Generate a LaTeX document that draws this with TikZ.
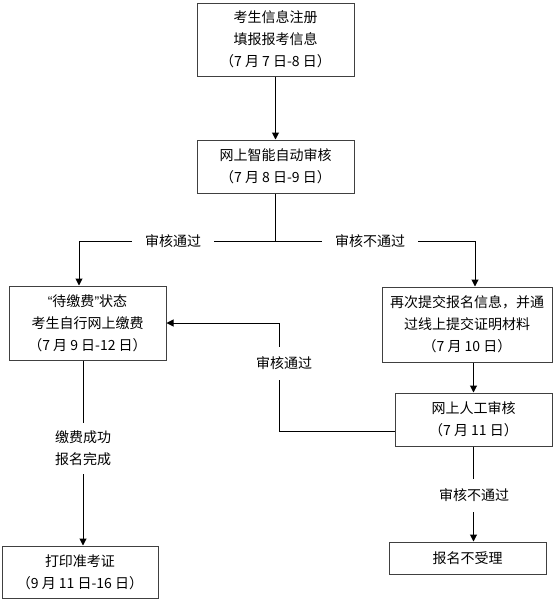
\documentclass[tikz,border=0pt]{standalone}
\usepackage{fontspec}
\setmainfont{Noto Sans CJK SC}
\newfontfamily\quotefont{Liberation Sans}
\usetikzlibrary{positioning, arrows.meta, calc}

\begin{document}
\begin{tikzpicture}[x=1pt, y=-1pt, line width=1pt,
    >={Triangle[width=7pt, length=7pt]},
    box/.style={draw=black!75, align=center, inner sep=0pt,
      font=\fontsize{14pt}{22pt}\selectfont},
    lbl/.style={fill=white, align=center, inner xsep=13pt, inner ysep=10pt,
      font=\fontsize{14pt}{22pt}\selectfont}]
        \useasboundingbox (0,0) rectangle (555,600);

        \node[box, minimum width=157pt, minimum height=73pt] (reg)    at (275.5,39.5) {考生信息注册\\填报报考信息\\（7 月 7 日-8 日）};
        \node[box, minimum width=157pt, minimum height=53pt] (auto)   at (275.5,166.5) {网上智能自动审核\\（7 月 8 日-9 日）};
        \node[box, minimum width=157pt, minimum height=74pt] (pay)    at (87.5,323)   {{\quotefont “}待缴费{\quotefont ”}状态\\考生自行网上缴费\\（7 月 9 日-12 日）};
        \node[box, minimum width=170pt, minimum height=75pt] (resub)  at (467,324.5)  {再次提交报名信息，并通\\过线上提交证明材料\\（7 月 10 日）};
        \node[box, minimum width=157pt, minimum height=53pt] (manual) at (473.5,419.5) {网上人工审核\\（7 月 11 日）};
        \node[box, minimum width=157pt, minimum height=32pt] (reject) at (467.5,558)  {报名不受理};
        \node[box, minimum width=156pt, minimum height=52pt] (print)  at (80,572)     {打印准考证\\（9 月 11 日-16 日）};

        \coordinate (split) at ($(auto.south)+(0,48)$);

        \draw[->] (reg) -- (auto);
        \draw (auto) -- (split);
        \draw[->] (split) -| ([xshift=-8.5pt]pay.north);
        \draw[->] (split) -| ([xshift=8pt]resub.north);
        \draw[->] (resub.south -| manual.south) -- (manual);
        \draw[->] (manual.south) -- (manual.south |- reject.north);
        \draw[->] ([yshift=-12pt]manual.west) -- ++(-115,0) |- (pay.east);
        \draw[->] ([xshift=-4.5pt]pay.south) -- ([xshift=-4.5pt]pay.south |- print.north);

        \node[lbl] (pass)    at (173,241) {审核通过};
        \node[lbl] (fail)    at (370,241) {审核不通过};
        \node[lbl] (pass2)   at (284,363) {审核通过};
        \node[lbl] (fail2)   at (474,495) {审核不通过};
        \node[lbl, inner ysep=8pt] (done) at (83,448) {缴费成功\\报名完成};
      \end{tikzpicture}
\end{document}
